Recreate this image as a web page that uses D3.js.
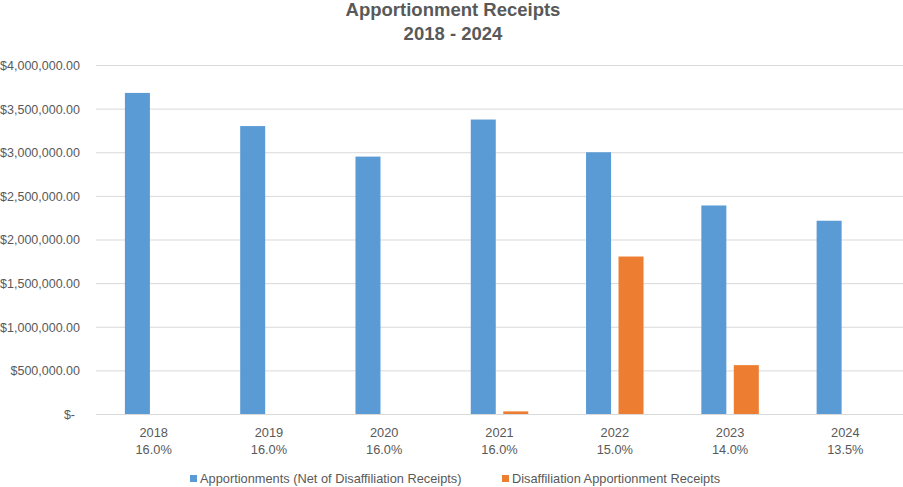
<!DOCTYPE html>
<html>
<head>
<meta charset="utf-8">
<script src="https://cdn.jsdelivr.net/npm/d3@7"></script>
<style>
  body { margin: 0; background: #fff; }
  text { font-family: "Liberation Sans", Arial, sans-serif; fill: #595959; }
</style>
</head>
<body>
<svg id="chart" width="903" height="487"></svg>
<script>
/*** DATA ***/
const years = ['2018', '2019', '2020', '2021', '2022', '2023', '2024'];
const rates = ['16.0%', '16.0%', '16.0%', '16.0%', '15.0%', '14.0%', '13.5%'];
const seriesNames = ['Apportionments (Net of Disaffiliation Receipts)', 'Disaffiliation Apportionment Receipts'];
const apportionments = [3680000, 3300000, 2950000, 3375000, 3000000, 2390000, 2215000];
const disaffiliation = [0, 0, 0, 30000, 1805000, 560000, 0];
const yTicks = [0, 500000, 1000000, 1500000, 2000000, 2500000, 3000000, 3500000, 4000000];
const colors = ['#5B9BD5', '#ED7D31'];

/*** DIMENSIONS ***/
const margin = {top: 65, right: 0, bottom: 73, left: 96};
const W = 903, H = 487;
const width = W - margin.left - margin.right;
const height = H - margin.top - margin.bottom;

const svg = d3.select('#chart');
const g = svg.append('g').attr('transform', `translate(${margin.left},${margin.top})`);

// SCALES
const x0 = d3.scaleBand().domain(years).range([0, width]).padding(0);
const x1 = d3.scaleBand().domain([0, 1]).range([0, x0.bandwidth()])
    .paddingInner(0.23).paddingOuter(0.89);
const y = d3.scaleLinear().domain([0, 4000000]).range([height, 0]);

const fmt = v => v === 0 ? '$-' : '$' + d3.format(',.2f')(v);

// GRID + Y LABELS
const yAxis = g.append('g')
    .call(d3.axisLeft(y).tickValues(yTicks).tickSize(-width).tickFormat(fmt))
    .call(a => a.select('.domain').remove());
yAxis.selectAll('line').attr('stroke', '#D9D9D9').attr('stroke-width', 1);
yAxis.selectAll('text')
    .attr('x', d => d === 0 ? -21 : -16)
    .attr('dy', '0.35em')
    .style('font-size', '12.5px')
    .attr('fill', '#595959');

// BARS
const rows = years.map((yr, i) => ({yr, vals: [apportionments[i], disaffiliation[i]]}));
g.append('g').selectAll('g')
  .data(rows)
  .enter().append('g')
    .attr('transform', d => `translate(${x0(d.yr)},0)`)
  .selectAll('rect')
  .data(d => d.vals.map((v, k) => ({k, v})))
  .enter().append('rect')
    .attr('x', d => x1(d.k))
    .attr('width', x1.bandwidth())
    .attr('y', d => y(d.v))
    .attr('height', d => height - y(d.v))
    .attr('fill', d => colors[d.k]);

// X LABELS (two lines)
const xl = g.append('g').attr('transform', `translate(0,${height})`)
  .selectAll('text')
  .data(years)
  .enter().append('text')
    .attr('x', d => x0(d) + x0.bandwidth() / 2)
    .attr('text-anchor', 'middle')
    .style('font-size', '12.8px');
xl.append('tspan').attr('x', d => x0(d) + x0.bandwidth() / 2).attr('y', 23).text(d => d);
xl.append('tspan').attr('x', d => x0(d) + x0.bandwidth() / 2).attr('y', 40).text((d, i) => rates[i]);

// TITLE
const title = svg.append('text')
    .attr('x', 453)
    .attr('text-anchor', 'middle')
    .style('font-size', '18.5px')
    .style('font-weight', 'bold');
title.append('tspan').attr('x', 453).attr('y', 16).text('Apportionment Receipts');
title.append('tspan').attr('x', 453).attr('y', 40).text('2018 - 2024');

// LEGEND
const legendX = [190, 502];
const legend = svg.append('g').selectAll('g')
  .data(seriesNames)
  .enter().append('g')
    .attr('transform', (d, i) => `translate(${legendX[i]},479)`);
legend.append('rect')
    .attr('x', 0).attr('y', -4).attr('width', 7).attr('height', 7)
    .attr('fill', (d, i) => colors[i]);
legend.append('text')
    .attr('x', 10).attr('dy', '0.35em')
    .style('font-size', '12.8px')
    .text(d => d);
</script>
</body>
</html>
